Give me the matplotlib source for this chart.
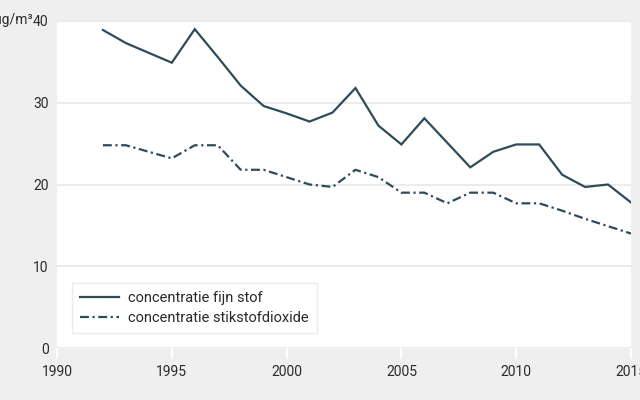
import matplotlib
matplotlib.use("Agg")
import matplotlib.pyplot as plt

years_fijnstof = [1992, 1993, 1994, 1995, 1996, 1997, 1998, 1999, 2000, 2001, 2002, 2003,
                  2004, 2005, 2006, 2007, 2008, 2009, 2010, 2011, 2012, 2013, 2014, 2015]
fijnstof = [38.9, 37.3, 36.1, 34.9, 39.0, 35.6, 32.1, 29.6, 28.7, 27.7, 28.8, 31.8,
            27.2, 24.9, 28.1, 25.1, 22.1, 24.0, 24.9, 24.9, 21.2, 19.7, 20.0, 17.8]

years_no2 = [1992, 1993, 1994, 1995, 1996, 1997, 1998, 1999, 2000, 2001, 2002, 2003,
             2004, 2005, 2006, 2007, 2008, 2009, 2010, 2011, 2012, 2013, 2014, 2015]
stikstofdioxide = [24.8, 24.8, 24.0, 23.2, 24.8, 24.8, 21.8, 21.8, 20.9, 20.0, 19.7, 21.8,
                   20.9, 19.0, 19.0, 17.7, 19.0, 19.0, 17.7, 17.7, 16.8, 15.8, 14.9, 14.0]

x_ticks = [1990, 1995, 2000, 2005, 2010, 2015]
y_ticks = [0, 10, 20, 30, 40]
series_labels = ["concentratie fijn stof", "concentratie stikstofdioxide"]
unit_label = "µg/m³"

plt.rcParams['font.family'] = ['Roboto', 'DejaVu Sans']
line_color = '#2f4b5a'
text_color = '#2a2a2a'

fig = plt.figure(figsize=(6.4, 4.0), dpi=100, facecolor='#efefef')
ax = fig.add_axes([57/640, 1 - 348/400, (631 - 57)/640, (348 - 21)/400])
ax.set_facecolor('white')

ax.plot(years_fijnstof, fijnstof, color=line_color, lw=1.6, solid_joinstyle='miter',
        label=series_labels[0])
ax.plot(years_no2, stikstofdioxide, color=line_color, lw=1.6, linestyle=(0, (4, 1.6, 1, 1.6)),
        label=series_labels[1])

ax.set_xlim(1990, 2015)
ax.set_ylim(0, 40)
ax.set_xticks(x_ticks)
ax.set_xticklabels([str(v) for v in x_ticks])
ax.set_yticks(y_ticks)
ax.set_yticklabels([str(v) for v in y_ticks])

for s in ax.spines.values():
    s.set_visible(False)

ax.yaxis.grid(True, color='#e8e8e8', lw=1.2)
ax.set_axisbelow(True)

ax.tick_params(axis='x', direction='out', length=8, width=1.5, color='white',
               labelsize=10, labelcolor=text_color, pad=4)
ax.tick_params(axis='y', length=0, labelsize=10, labelcolor=text_color, pad=6)
for t in ax.get_xticklabels() + ax.get_yticklabels():
    t.set_clip_on(False)

fig.text(32.5/640, 1 - 20/400, unit_label, ha='right', va='center', fontsize=10, color=text_color)

leg = ax.legend(loc='lower left', bbox_to_anchor=((72 - 57)/574, (348 - 333)/327),
                borderaxespad=0, frameon=True, fancybox=False, fontsize=10.5, handlelength=2.7,
                borderpad=0.55, labelspacing=0.4, handletextpad=0.6)
leg.get_frame().set_edgecolor('#e6e6e6')
leg.get_frame().set_linewidth(1.0)
for t in leg.get_texts():
    t.set_color(text_color)

fig.savefig('out.png', dpi=100, facecolor=fig.get_facecolor())
